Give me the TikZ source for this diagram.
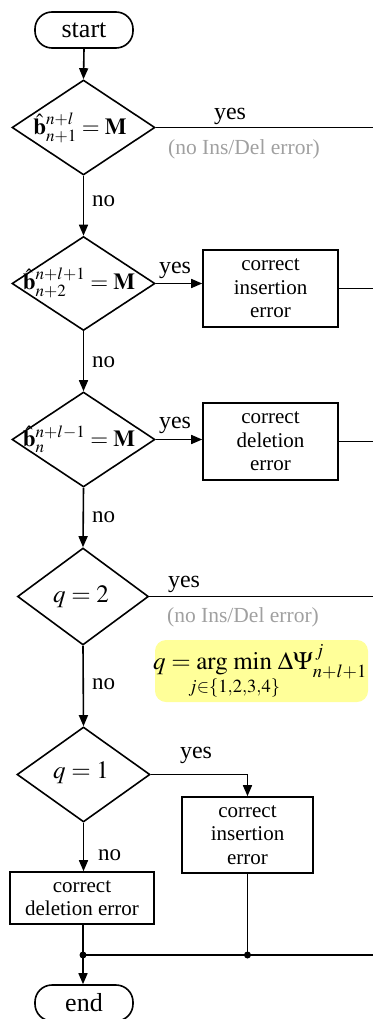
\documentclass[tikz,border=0pt]{standalone}
\usepackage{mathptmx}
\usepackage[no-math]{fontspec}
\setmainfont{Liberation Serif}
\usetikzlibrary{shapes.geometric,arrows.meta}
\definecolor{graytext}{RGB}{160,160,160}
\definecolor{yellowbox}{RGB}{255,255,153}
\begin{document}
\begin{tikzpicture}[x=1pt,y=-1pt,
  ln/.style={line width=1.6pt},
  arr/.style={line width=1.6pt,-{Triangle[length=11pt,width=9pt]}},
  term/.style={draw,line width=1.6pt,rounded corners=17pt,minimum width=98pt,minimum height=36pt,inner sep=0pt,font=\fontsize{26}{28}\selectfont},
  dia/.style={draw,diamond,line width=1.6pt,inner sep=0pt},
  mth/.style={font=\fontsize{23}{25}\selectfont,inner sep=0pt},
  box/.style={draw,line width=1.6pt,inner sep=0pt,align=center,font=\fontsize{21}{23.5}\selectfont},
  lab/.style={anchor=base,inner sep=0pt,font=\fontsize{24}{26}\selectfont},
  nolab/.style={anchor=base west,inner sep=0pt,font=\fontsize{23}{25}\selectfont},
  glab/.style={anchor=base,inner sep=0pt,text=graytext,font=\fontsize{21.5}{24}\selectfont},
  dot/.style={circle,fill=black,inner sep=0pt,minimum size=7pt}
]
\useasboundingbox (0,0) rectangle (373,1019);
\coordinate (redge) at (373,0);

\node[term] (start) at (84,30) {start};

\node[dia,minimum width=143pt,minimum height=95pt] (d1) at (83.5,127.5) {};
\node[mth] (t1) at (80,128) {$\hat{\mathbf b}^{n+l}_{n+1}=\mathbf M$};

\node[dia,minimum width=143pt,minimum height=94pt] (d2) at (83.5,283.5) {};
\node[mth] (t2) at (79,283) {$\hat{\mathbf b}^{n+l+1}_{n+2}=\mathbf M$};

\node[dia,minimum width=143pt,minimum height=95pt] (d3) at (83.5,439.5) {};
\node[mth] (t3) at (79,439) {$\hat{\mathbf b}^{n+l-1}_{n}=\mathbf M$};

\node[dia,minimum width=131pt,minimum height=97pt] (d4) at (83,596.5) {};
\node[mth,font=\fontsize{25}{27}\selectfont] (t4) at (81,597) {$q=2$};

\node[dia,minimum width=133pt,minimum height=95pt] (d5) at (83.5,774.5) {};
\node[mth,font=\fontsize{25}{27}\selectfont] (t5) at (81,773) {$q=1$};

\node[box,minimum width=135pt,minimum height=77pt] (b2) at (270.5,288.5) {correct\\insertion\\error};
\node[box,minimum width=135pt,minimum height=77pt] (b3) at (270.5,441.5) {correct\\deletion\\error};
\node[box,minimum width=131pt,minimum height=76pt] (b5) at (247.5,835) {correct\\insertion\\error};
\node[box,minimum width=144pt,minimum height=52pt] (b4) at (82,898) {correct\\deletion error};

\node[fill=yellowbox,rounded corners=11pt,minimum width=213pt,minimum height=62pt,inner sep=0pt] (qbox) at (261.5,671) {};
\node[inner sep=0pt,font=\fontsize{25}{27}\selectfont] (qf) at (260,672)
  {$\displaystyle q=\mathop{\mathrm{arg\;min}}\limits_{\makebox[0pt]{$\scriptstyle j\in\{1,2,3,4\}$}}\,\Delta\Psi^{\,j}_{n+l+1}$};

\node[term] (end) at (84,1003) {end};

% connectors
\draw[arr] (start.south) -- (d1.north);
\draw[arr] (d1.south) -- (d2.north);
\draw[arr] (d2.south) -- (d3.north);
\draw[arr] (d3.south) -- (d4.north);
\draw[arr] (d4.south) -- (d5.north);
\draw[arr] (d5.south) -- (d5.south |- b4.north);

\draw[ln] (d1.east) -- (d1.east -| redge);
\draw[arr] (d2.east) -- (d2.east -| b2.west);
\draw[ln] (b2.east) -- (b2.east -| redge);
\draw[arr] (d3.east) -- (d3.east -| b3.west);
\draw[ln] (b3.east) -- (b3.east -| redge);
\draw[ln] (d4.east) -- (d4.east -| redge);
\draw[arr] (d5.east) -| (b5.north);

\coordinate (j1) at (83,955);
\coordinate (j2) at (b5.south |- j1);
\draw[ln] (b4.south -| j1) -- (j1);
\draw[ln] (b5.south) -- (j2);
\draw[ln] (j1) -- (j1 -| redge);
\draw[arr] (j1) -- (j1 |- end.north);
\node[dot] (dj1) at (j1) {};
\node[dot] (dj2) at (j2) {};

% labels
\node[lab] (y1) at (230,120) {yes};
\node[glab] (g1) at (244,155) {(no Ins/Del error)};
\node[nolab] (n1) at (92,207) {no};
\node[lab] (y2) at (175,273) {yes};
\node[nolab] (n2) at (92,367) {no};
\node[lab] (y3) at (175,428) {yes};
\node[nolab] (n3) at (92,522) {no};
\node[lab] (y4) at (184,587) {yes};
\node[glab] (g2) at (243,622) {(no Ins/Del error)};
\node[nolab] (n4) at (92,689) {no};
\node[lab] (y5) at (196,758) {yes};
\node[nolab] (n5) at (98,860) {no};
\end{tikzpicture}
\end{document}
